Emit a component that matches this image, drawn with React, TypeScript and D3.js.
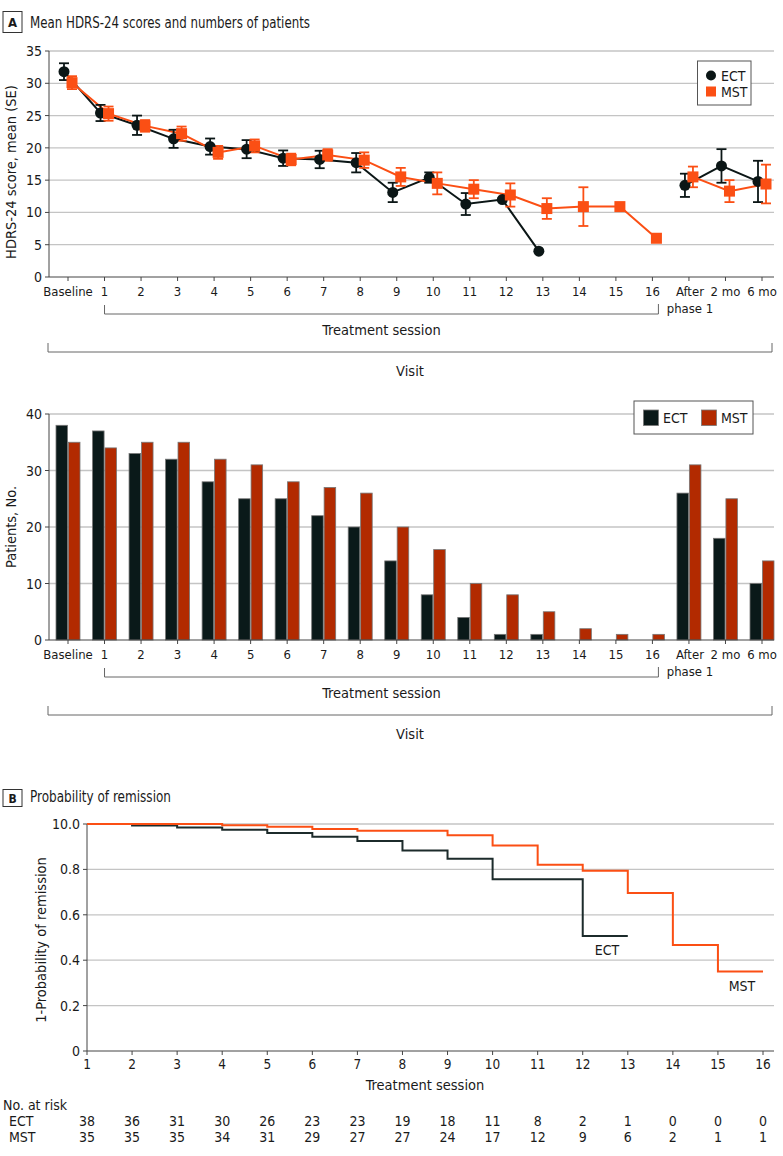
import React from "react";
import * as d3 from "d3";

const visits = ["Baseline","1","2","3","4","5","6","7","8","9","10","11","12","13","14","15","16","After","2 mo","6 mo"];
const sessions = visits.slice(1, 17);

// Mean HDRS-24 (null = no data), SE
const ectMean = [31.8,25.4,23.5,21.4,20.2,19.8,18.4,18.2,17.7,13.1,15.4,11.3,12.0,4.0,null,null,null,14.2,17.2,14.8];
const ectSE   = [1.3,1.25,1.5,1.4,1.25,1.4,1.2,1.35,1.5,1.5,0.8,1.7,0,0,0,0,0,1.8,2.6,3.2];
const mstMean = [30.1,25.3,23.4,22.2,19.3,20.3,18.2,18.9,18.1,15.5,14.5,13.6,12.7,10.6,10.9,10.9,6.0,15.5,13.3,14.4];
const mstSE   = [1.0,1.1,0.9,1.1,1.0,1.0,0.9,0.9,1.2,1.4,1.7,1.4,1.8,1.6,3.0,0,0,1.6,1.7,3.0];

// Patient counts
const ectCount = [38,37,33,32,28,25,25,22,20,14,8,4,1,1,0,0,0,26,18,10];
const mstCount = [35,34,35,35,32,31,28,27,26,20,16,10,8,5,2,1,1,31,25,14];

// Kaplan-Meier (1 - probability of remission)
const ectKM: [number, number][] = [[1,1.0],[2,0.993],[3,0.985],[4,0.975],[5,0.96],[6,0.944],[7,0.925],[8,0.883],[9,0.847],[10,0.757],[12,0.507],[13,0.507]];
const mstKM: [number, number][] = [[1,1.0],[4,0.995],[5,0.988],[6,0.978],[7,0.97],[9,0.95],[10,0.905],[11,0.82],[12,0.794],[13,0.696],[14,0.467],[15,0.35],[16,0.35]];

const ectRisk = [38,36,31,30,26,23,23,19,18,11,8,2,1,0,0,0];
const mstRisk = [35,35,35,34,31,29,27,27,24,17,12,9,6,2,1,1];

const yTicksA = [0,5,10,15,20,25,30,35];
const yTicksBar = [0,10,20,30,40];
const yTicksKM = [0,0.2,0.4,0.6,0.8,1.0];
const yTickLabelsKM = ["0","0.2","0.4","0.6","0.8","10.0"];

const ECT_C = "#0b1616";
const MST_C = "#fb4f14";
const ECT_BAR = "#0a1919";
const MST_BAR = "#b22a00";
const GRID = "#c4c4c4";
const AX = "#444";
const TXT = "#1a1a1a";
const FONT = "'Liberation Sans Narrow', 'DejaVu Sans Condensed', 'Roboto', sans-serif";

function XLabels({ x, y }: { x: d3.ScalePoint<string>; y: number }) {
  return (
    <g>
      {visits.map((v) => (
        <g key={v}>
          <line x1={x(v)} x2={x(v)} y1={y} y2={y + 4} stroke={AX} />
          {v === "After" ? (
            <text x={x(v)} y={y + 19} textAnchor="middle" fontSize={13} fill={TXT}>
              <tspan x={(x(v) as number) + 1} dy={0}>After</tspan>
              <tspan x={(x(v) as number) + 1} dy={17}>phase 1</tspan>
            </text>
          ) : (
            <text x={x(v)} y={y + 19} textAnchor="middle" fontSize={13} fill={TXT}>{v}</text>
          )}
        </g>
      ))}
    </g>
  );
}

function Brackets({ x, y0 }: { x: d3.ScalePoint<string>; y0: number }) {
  const l = x("1") as number;
  const r = (x("16") as number) + 6;
  const vl = 48;
  const vr = 772;
  return (
    <g stroke="#666" fill="none" strokeWidth={1}>
      <path d={`M${l},${y0 + 28}V${y0 + 37}H${r}V${y0 + 27}`} />
      <text x={(l + r) / 2} y={y0 + 58} textAnchor="middle" fontSize={14.5} fill={TXT} stroke="none">Treatment session</text>
      <path d={`M${vl},${y0 + 66}V${y0 + 75}H${vr}V${y0 + 66}`} />
      <text x={410} y={y0 + 99} textAnchor="middle" fontSize={14.5} fill={TXT} stroke="none">Visit</text>
    </g>
  );
}

export default function App() {
  const W = 783, H = 1156;
  const xA = d3.scalePoint<string>().domain(visits).range([68, 762]);
  const yA = d3.scaleLinear().domain([0, 35]).range([277, 51]);
  const yBar = d3.scaleLinear().domain([0, 40]).range([640, 414]);
  const sub = d3.scaleBand<string>().domain(["ECT", "MST"]).range([-12, 12]).paddingInner(0.07);
  const xK = d3.scaleLinear().domain([1, 16]).range([87, 763]);
  const yK = d3.scaleLinear().domain([0, 1]).range([1051, 824]);

  const dodge = 4;
  const seg = (means: (number | null)[], off: number) => {
    const line = d3.line<number>()
      .defined((i) => means[i] !== null)
      .x((i) => (xA(visits[i]) as number) + off)
      .y((i) => yA(means[i] as number));
    const a = line(d3.range(0, 17)) || "";
    const b = line(d3.range(17, 20)) || "";
    return a + b;
  };

  const kmLine = d3.line<[number, number]>().curve(d3.curveStepAfter).x((d) => xK(d[0])).y((d) => yK(d[1]));

  const errBars = (means: (number | null)[], se: number[], off: number, color: string) =>
    means.map((m, i) => {
      if (m === null || !se[i]) return null;
      const cx = (xA(visits[i]) as number) + off;
      const t = yA(m + se[i]), b = yA(m - se[i]);
      return (
        <g key={i} stroke={color} strokeWidth={1.8}>
          <line x1={cx} x2={cx} y1={t} y2={b} />
          <line x1={cx - 5} x2={cx + 5} y1={t} y2={t} />
          <line x1={cx - 5} x2={cx + 5} y1={b} y2={b} />
        </g>
      );
    });

  return (
    <svg width={W} height={H} style={{ position: "absolute", left: 0, top: 0, background: "#fff" }} fontFamily={FONT}>
      {/* Panel A header */}
      <rect x={3} y={11.5} width={19} height={21} fill="#fff" stroke="#333" strokeWidth={1} />
      <text x={12.5} y={27} textAnchor="middle" fontSize={13} fontWeight="bold" fill={TXT}>A</text>
      <text x={30} y={28} fontSize={15} fill={TXT} textLength={280} lengthAdjust="spacingAndGlyphs">Mean HDRS-24 scores and numbers of patients</text>

      {/* Top chart */}
      {yTicksA.map((t) => (
        <g key={t}>
          {t > 0 && <line x1={49} x2={774} y1={yA(t)} y2={yA(t)} stroke={GRID} strokeWidth={1.3} />}
          <line x1={45} x2={49} y1={yA(t)} y2={yA(t)} stroke={AX} />
          <text x={42} y={yA(t) + 5} textAnchor="end" fontSize={14} fill={TXT}>{t}</text>
        </g>
      ))}
      <line x1={49} x2={49} y1={yA(35)} y2={277} stroke={AX} />
      <line x1={49} x2={774} y1={277} y2={277} stroke={AX} />
      <text transform={`translate(16,172) rotate(-90)`} textAnchor="middle" fontSize={14.5} fill={TXT}>HDRS-24 score, mean (SE)</text>
      <XLabels x={xA} y={277} />
      <Brackets x={xA} y0={277} />

      <path d={seg(ectMean, -dodge)} fill="none" stroke={ECT_C} strokeWidth={2} />
      <path d={seg(mstMean, dodge)} fill="none" stroke={MST_C} strokeWidth={2} />
      {errBars(ectMean, ectSE, -dodge, ECT_C)}
      {errBars(mstMean, mstSE, dodge, MST_C)}
      {ectMean.map((m, i) => m === null ? null : (
        <circle key={i} cx={(xA(visits[i]) as number) - dodge} cy={yA(m)} r={5.5} fill={ECT_C} />
      ))}
      {mstMean.map((m, i) => m === null ? null : (
        <rect key={i} x={(xA(visits[i]) as number) + dodge - 5.5} y={yA(m) - 5.5} width={11} height={11} fill={MST_C} />
      ))}

      {/* Legend top */}
      <rect x={697.5} y={61} width={53.5} height={44} fill="#fff" stroke="#555" strokeWidth={1} />
      <circle cx={711} cy={75.5} r={5} fill={ECT_C} />
      <text x={721} y={80.5} fontSize={14} fill={TXT}>ECT</text>
      <rect x={706} y={86.5} width={10} height={10} fill={MST_C} />
      <text x={721} y={96.5} fontSize={14} fill={TXT}>MST</text>

      {/* Bar chart */}
      {yTicksBar.map((t) => (
        <g key={t}>
          {t > 0 && <line x1={49} x2={774} y1={yBar(t)} y2={yBar(t)} stroke={GRID} strokeWidth={1.3} />}
          <line x1={45} x2={49} y1={yBar(t)} y2={yBar(t)} stroke={AX} />
          <text x={42} y={yBar(t) + 5} textAnchor="end" fontSize={14} fill={TXT}>{t}</text>
        </g>
      ))}
      {visits.map((v, i) => (
        <g key={v}>
          {ectCount[i] > 0 && (
            <rect x={(xA(v) as number) + (sub("ECT") as number)} y={yBar(ectCount[i])} width={sub.bandwidth()} height={yBar(0) - yBar(ectCount[i])} fill={ECT_BAR} stroke="#777" strokeWidth={0.8} />
          )}
          {mstCount[i] > 0 && (
            <rect x={(xA(v) as number) + (sub("MST") as number)} y={yBar(mstCount[i])} width={sub.bandwidth()} height={yBar(0) - yBar(mstCount[i])} fill={MST_BAR} stroke="#777" strokeWidth={0.8} />
          )}
        </g>
      ))}
      <line x1={49} x2={49} y1={yBar(40)} y2={640} stroke={AX} />
      <line x1={49} x2={774} y1={640} y2={640} stroke={AX} />
      <text transform={`translate(16,527) rotate(-90)`} textAnchor="middle" fontSize={14.5} fill={TXT}>Patients, No.</text>
      <XLabels x={xA} y={640} />
      <Brackets x={xA} y0={640} />

      {/* Legend bar */}
      <rect x={634} y={401} width={119} height={33} fill="#fff" stroke="#555" strokeWidth={1} />
      <rect x={643.5} y={410} width={15} height={15.5} fill={ECT_BAR} stroke="#777" strokeWidth={0.8} />
      <text x={663} y={423} fontSize={14} fill={TXT}>ECT</text>
      <rect x={701.5} y={410} width={15} height={15.5} fill={MST_BAR} stroke="#777" strokeWidth={0.8} />
      <text x={721} y={423} fontSize={14} fill={TXT}>MST</text>

      {/* Panel B header */}
      <rect x={3} y={789.5} width={19} height={17} fill="#fff" stroke="#333" strokeWidth={1} />
      <text x={12.5} y={802.5} textAnchor="middle" fontSize={12} fontWeight="bold" fill={TXT}>B</text>
      <text x={30} y={802} fontSize={15} fill={TXT} textLength={141} lengthAdjust="spacingAndGlyphs">Probability of remission</text>

      {yTicksKM.map((t, i) => (
        <g key={t}>
          {t > 0 && <line x1={87} x2={774} y1={yK(t)} y2={yK(t)} stroke={GRID} strokeWidth={1.3} />}
          <line x1={83} x2={87} y1={yK(t)} y2={yK(t)} stroke={AX} />
          <text x={80} y={yK(t) + 5} textAnchor="end" fontSize={14} fill={TXT}>{yTickLabelsKM[i]}</text>
        </g>
      ))}
      <line x1={87} x2={87} y1={yK(1)} y2={yK(0)} stroke={AX} />
      <line x1={87} x2={774} y1={yK(0)} y2={yK(0)} stroke={AX} />
      {sessions.map((s, i) => (
        <g key={s}>
          <line x1={xK(i + 1)} x2={xK(i + 1)} y1={yK(0)} y2={yK(0) + 4} stroke={AX} />
          <text x={xK(i + 1)} y={yK(0) + 18} textAnchor="middle" fontSize={13.5} fill={TXT}>{s}</text>
        </g>
      ))}
      <text x={425} y={1090} textAnchor="middle" fontSize={14.5} fill={TXT}>Treatment session</text>
      <text transform={`translate(46,940) rotate(-90)`} textAnchor="middle" fontSize={14.5} fill={TXT}>1-Probability of remission</text>
      <path d={kmLine(ectKM) || ""} fill="none" stroke="#1c2b2b" strokeWidth={2} />
      <path d={kmLine(mstKM) || ""} fill="none" stroke={MST_C} strokeWidth={2} />
      <text x={607} y={955} textAnchor="middle" fontSize={14} fill={TXT}>ECT</text>
      <text x={742} y={991} textAnchor="middle" fontSize={14} fill={TXT}>MST</text>

      {/* At risk */}
      <text x={3} y={1110} fontSize={14} fill={TXT}>No. at risk</text>
      <text x={9} y={1126} fontSize={14} fill={TXT}>ECT</text>
      <text x={9} y={1142} fontSize={14} fill={TXT}>MST</text>
      {ectRisk.map((n, i) => (
        <text key={"e" + i} x={xK(i + 1)} y={1126} textAnchor="middle" fontSize={14} fill={TXT}>{n}</text>
      ))}
      {mstRisk.map((n, i) => (
        <text key={"m" + i} x={xK(i + 1)} y={1142} textAnchor="middle" fontSize={14} fill={TXT}>{n}</text>
      ))}
    </svg>
  );
}
